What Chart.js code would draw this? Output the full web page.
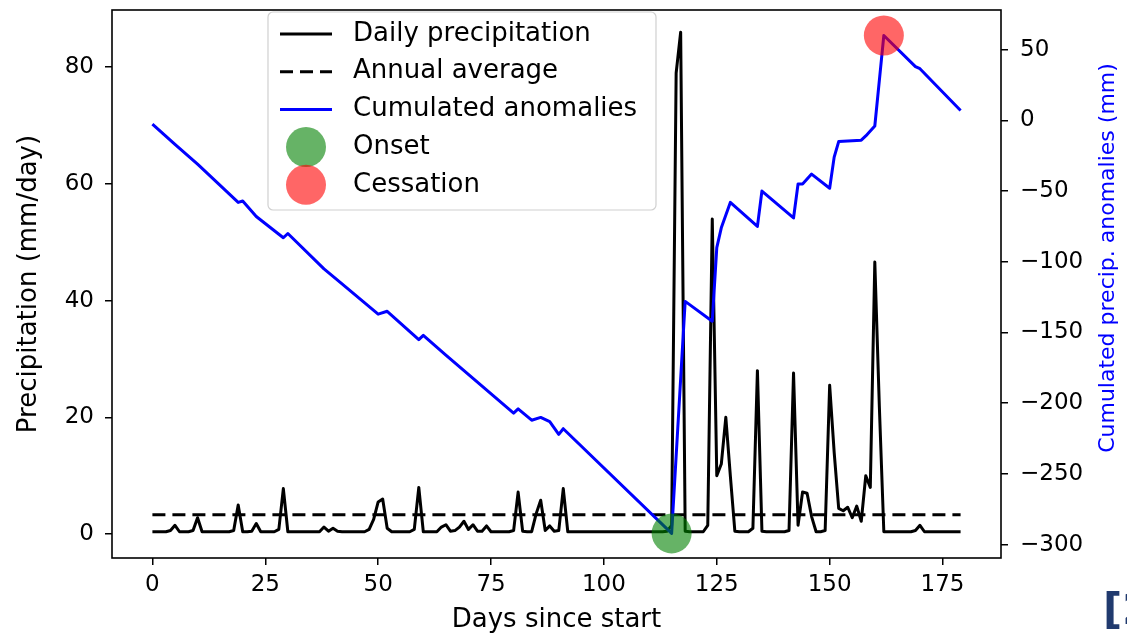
<!DOCTYPE html>
<html>
<head>
<meta charset="utf-8">
<script src="https://cdn.jsdelivr.net/npm/chart.js@4.4.0/dist/chart.umd.min.js"></script>
<style>
  html, body { margin: 0; padding: 0; background: #fff; }
  #wrap { position: relative; width: 1127px; height: 636px; }
</style>
</head>
<body>
<div id="wrap"><canvas id="rainChart"></canvas></div>
<script>
// daily precipitation (mm/day), one value per day
const dailyPrecip = [
  0.4, 0.4, 0.4, 0.4, 0.6, 1.5, 0.4, 0.4, 0.4, 0.6,
  2.8, 0.4, 0.4, 0.4, 0.4, 0.4, 0.4, 0.4, 0.6, 5.0,
  0.4, 0.4, 0.5, 1.8, 0.4, 0.4, 0.4, 0.4, 0.8, 7.8,
  0.4, 0.4, 0.4, 0.4, 0.4, 0.4, 0.4, 0.4, 1.2, 0.5,
  1.0, 0.5, 0.4, 0.4, 0.4, 0.4, 0.4, 0.4, 0.8, 2.5,
  5.5, 6.0, 1.0, 0.4, 0.4, 0.4, 0.4, 0.4, 0.8, 8.0,
  0.4, 0.4, 0.4, 0.4, 1.2, 1.6, 0.5, 0.6, 1.2, 2.2,
  0.8, 1.6, 0.5, 0.5, 1.4, 0.4, 0.4, 0.4, 0.4, 0.4,
  0.6, 7.2, 0.5, 0.4, 0.4, 3.5, 5.8, 0.6, 1.4, 0.5,
  0.6, 7.8, 0.4, 0.4, 0.4, 0.4, 0.4, 0.4, 0.4, 0.4,
  0.4, 0.4, 0.4, 0.4, 0.4, 0.4, 0.4, 0.4, 0.4, 0.4,
  0.4, 0.4, 0.4, 0.4, 0.5, 1.5, 79, 86, 0.5, 0.4,
  0.4, 0.4, 0.4, 1.5, 54, 10, 12, 20, 10, 0.5,
  0.4, 0.4, 0.4, 1.0, 28, 0.5, 0.4, 0.4, 0.4, 0.4,
  0.4, 0.6, 27.6, 1.5, 7.2, 7.0, 3.0, 0.4, 0.4, 0.6,
  25.5, 14, 4.4, 4.0, 4.6, 2.8, 4.8, 2.2, 10, 8,
  46.6, 22, 0.4, 0.4, 0.4, 0.4, 0.4, 0.4, 0.4, 0.6,
  1.5, 0.4, 0.4, 0.4, 0.4, 0.4, 0.4, 0.4, 0.4, 0.4
];
const annualAverage = 3.3;

// cumulated anomalies (mm): corners of the blue line
const anomalyDays = [0, 5, 10, 19, 20, 23, 29, 30, 38, 41, 50, 52, 59, 60, 65, 80, 81, 84, 86, 88, 90, 91,
  115, 118, 124, 125, 126, 128, 134, 135, 142, 143, 144, 146, 150, 151, 152, 157, 158, 160, 162, 169, 170, 179];
const anomalyValues = [-2.6, -17, -31, -58, -57, -68, -83, -80, -105, -113, -137, -135, -155, -152, -166, -207, -204, -212, -210, -213, -222, -218,
  -292, -128, -142, -90, -76, -58, -75, -50, -69, -45, -45, -38, -48, -26, -15, -14, -11, -4, 60, 38, 36.5, 7];

const onsetDay = [115];
const onsetValue = [-292];
const cessationDay = [162];
const cessationValue = [60];

const xTicks = [0, 25, 50, 75, 100, 125, 150, 175];
const precipTicks = [0, 20, 40, 60, 80];
const anomalyTicks = [-300, -250, -200, -150, -100, -50, 0, 50];

const days = dailyPrecip.map((v, i) => i);
const minusSign = v => (v < 0 ? '\u2212' + Math.abs(v) : String(v));

Chart.defaults.font.family = "'DejaVu Sans', sans-serif";
Chart.defaults.color = '#000';

const tickGrid = { drawOnChartArea: false, drawTicks: true, tickLength: 7, color: '#000', lineWidth: 1.5 };

// keep the plot box exactly where the figure has it
function fixSize(prop, size) {
  return ax => {
    ax[prop] = size;
    ax.paddingTop = 0;
    ax.paddingBottom = 0;
    ax.paddingLeft = 0;
    ax.paddingRight = 0;
  };
}

// frame, legend, right axis title and the corner mark
const extrasPlugin = {
  id: 'extras',
  afterDraw(chart) {
    const { ctx, chartArea: a } = chart;
    ctx.save();
    ctx.strokeStyle = '#000';
    ctx.lineWidth = 1.6;
    ctx.strokeRect(a.left, a.top, a.right - a.left, a.bottom - a.top);

    // legend box
    const bx = 268, by = 12, bw = 388, bh = 198, r = 5;
    ctx.beginPath();
    ctx.moveTo(bx + r, by);
    ctx.arcTo(bx + bw, by, bx + bw, by + bh, r);
    ctx.arcTo(bx + bw, by + bh, bx, by + bh, r);
    ctx.arcTo(bx, by + bh, bx, by, r);
    ctx.arcTo(bx, by, bx + bw, by, r);
    ctx.closePath();
    ctx.fillStyle = 'rgba(255,255,255,0.8)';
    ctx.fill();
    ctx.strokeStyle = '#d0d0d0';
    ctx.lineWidth = 1.2;
    ctx.stroke();

    const order = ['Daily precipitation', 'Annual average', 'Cumulated anomalies', 'Onset', 'Cessation'];
    ctx.font = "26px 'DejaVu Sans'";
    ctx.textBaseline = 'middle';
    ctx.textAlign = 'left';
    order.forEach((label, i) => {
      const ds = chart.data.datasets.find(d => d.label === label);
      const y = 34 + i * 37.7;
      if (ds.showLine === false) {
        ctx.beginPath();
        ctx.arc(306, y, 20, 0, Math.PI * 2);
        ctx.fillStyle = ds.pointBackgroundColor;
        ctx.fill();
      } else {
        ctx.beginPath();
        ctx.setLineDash(ds.borderDash || []);
        ctx.moveTo(280, y);
        ctx.lineTo(332, y);
        ctx.strokeStyle = ds.borderColor;
        ctx.lineWidth = ds.borderWidth;
        ctx.stroke();
        ctx.setLineDash([]);
      }
      ctx.fillStyle = '#000';
      ctx.fillText(label, 353, y);
    });

    // right axis title, reading bottom to top
    ctx.save();
    ctx.translate(1108, 258);
    ctx.rotate(-Math.PI / 2);
    ctx.font = "22px 'DejaVu Sans'";
    ctx.fillStyle = 'blue';
    ctx.textAlign = 'center';
    ctx.textBaseline = 'middle';
    ctx.fillText('Cumulated precip. anomalies (mm)', 0, 0);
    ctx.restore();

    ctx.font = "bold 42px 'DejaVu Sans'";
    ctx.fillStyle = '#203a6e';
    ctx.textBaseline = 'top';
    ctx.fillText('[2]', 1103, 592);
    ctx.restore();
  }
};

const ctx = document.getElementById('rainChart').getContext('2d');
const rainChart = new Chart(ctx, {
  type: 'line',
  data: {
    datasets: [
      {
        label: 'Onset',
        data: onsetDay.map((d, i) => ({ x: d, y: onsetValue[i] })),
        yAxisID: 'yAnom',
        showLine: false,
        pointRadius: 20,
        pointHoverRadius: 20,
        pointBackgroundColor: 'rgba(0,128,0,0.6)',
        pointBorderWidth: 0,
        pointBorderColor: 'rgba(0,0,0,0)',
        clip: false,
        order: 0
      },
      {
        label: 'Cessation',
        data: cessationDay.map((d, i) => ({ x: d, y: cessationValue[i] })),
        yAxisID: 'yAnom',
        showLine: false,
        pointRadius: 20,
        pointHoverRadius: 20,
        pointBackgroundColor: 'rgba(255,0,0,0.6)',
        pointBorderWidth: 0,
        pointBorderColor: 'rgba(0,0,0,0)',
        clip: false,
        order: 0
      },
      {
        label: 'Cumulated anomalies',
        data: anomalyDays.map((d, i) => ({ x: d, y: anomalyValues[i] })),
        yAxisID: 'yAnom',
        borderColor: 'blue',
        borderWidth: 3,
        pointRadius: 0,
        tension: 0,
        borderJoinStyle: 'round',
        order: 1
      },
      {
        label: 'Annual average',
        data: [{ x: days[0], y: annualAverage }, { x: days[days.length - 1], y: annualAverage }],
        yAxisID: 'yPrec',
        borderColor: '#000',
        borderDash: [13, 7],
        borderWidth: 3,
        pointRadius: 0,
        order: 2
      },
      {
        label: 'Daily precipitation',
        data: days.map((d, i) => ({ x: d, y: dailyPrecip[i] })),
        yAxisID: 'yPrec',
        borderColor: '#000',
        borderWidth: 3,
        pointRadius: 0,
        tension: 0,
        borderJoinStyle: 'round',
        order: 3
      }
    ]
  },
  options: {
    responsive: true,
    maintainAspectRatio: false,
    animation: false,
    events: [],
    layout: { autoPadding: false, padding: { top: 10, left: 0, right: 0, bottom: 0 } },
    plugins: {
      legend: { display: false },
      tooltip: { enabled: false }
    },
    scales: {
      x: {
        type: 'linear',
        min: -8.95,
        max: 187.95,
        afterBuildTicks: ax => { ax.ticks = xTicks.map(v => ({ value: v })); },
        afterFit: fixSize('height', 78),
        ticks: { font: { size: 23 }, padding: 6, maxRotation: 0 },
        grid: tickGrid,
        border: { display: false },
        title: { display: true, text: 'Days since start', font: { size: 26 }, padding: { top: 0, bottom: 0 } }
      },
      yPrec: {
        type: 'linear',
        position: 'left',
        min: -4.1,
        max: 89.8,
        afterBuildTicks: ax => { ax.ticks = precipTicks.map(v => ({ value: v })); },
        afterFit: fixSize('width', 112),
        ticks: { font: { size: 23 }, padding: 11 },
        grid: tickGrid,
        border: { display: false },
        title: { display: true, text: 'Precipitation (mm/day)', font: { size: 26 }, padding: { top: 14, bottom: 0 } }
      },
      yAnom: {
        type: 'linear',
        position: 'right',
        min: -309.4,
        max: 78,
        afterBuildTicks: ax => { ax.ticks = anomalyTicks.map(v => ({ value: v })); },
        afterFit: fixSize('width', 126),
        ticks: { font: { size: 23 }, padding: 12, callback: v => minusSign(v) },
        grid: tickGrid,
        border: { display: false }
      }
    }
  },
  plugins: [extrasPlugin]
});
</script>
</body>
</html>
